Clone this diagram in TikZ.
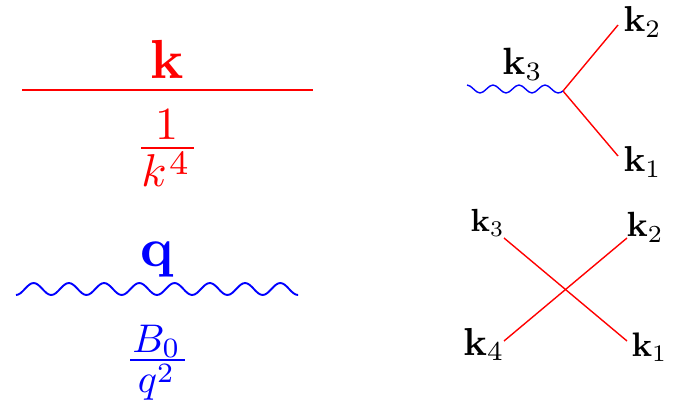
\documentclass[tikz,border=0pt]{standalone}
\usepackage{amsmath}
\usepackage{graphicx}
\definecolor{wblue}{rgb}{0,0,1}
\tikzset{
  every node/.style={inner sep=0pt,outer sep=0pt,anchor=base},
  bigline/.style={red,line width=1.9pt},
  thinred/.style={red,line width=1.4pt},
  wavebig/.style={wblue,line width=1.9pt},
  wavesmall/.style={wblue,line width=1.4pt},
  biglabel/.style={scale=5.5},
  fracred/.style={scale=4.6,text=red},
  fracblue/.style={scale=4.0,text=wblue},
  fracrule/.style={line width=2.6pt},
  leg/.style={scale=#1,text=black},
}
\begin{document}
\begin{tikzpicture}[x=1pt,y=-1pt]
\useasboundingbox (0,0) rectangle (674,411);
% propagators
\coordinate (kl) at (22,90);
\coordinate (kr) at (313,90);
\draw[bigline] (kl) -- (kr);
\node[biglabel,text=red] (ktext) at (167,79) {$\mathbf{k}$};
\node[fracred] (knum) at (166.5,140) {$1$};
\coordinate (krl) at (141,148);
\coordinate (krr) at (194,148);
\draw[fracrule,red] (krl) -- (krr);
\node[fracred] (kden) at (165,187) {$k\kern0.5pt\raisebox{2.7pt}{\scalebox{1.06}{$\scriptstyle 4$}}$};
\coordinate (ql) at (16,295);
\coordinate (qr) at (298,295);
\draw[wavebig] (ql) foreach \i in {1,...,8}{
  cos ++(8.81,-6) sin ++(8.81,-6) cos ++(8.81,6) sin ++(8.81,6)} -- (qr);
\node[biglabel,text=wblue] (qtext) at (157,267) {$\mathbf{q}$};
\node[fracblue] (qnum) at (156.5,352) {$B_0$};
\coordinate (qrl) at (130,360);
\coordinate (qrr) at (185,360);
\draw[fracrule,wblue] (qrl) -- (qrr);
\node[fracblue] (qden) at (155.5,392) {$q\raisebox{2.5pt}{$\scriptstyle 2$}$};
% three-leg vertex
\coordinate (v) at (563,91);
\coordinate (w) at (467,85);
\coordinate (a2) at (618,25);
\coordinate (a1) at (618,156);
\draw[thinred] (v) -- (a2);
\draw[thinred] (v) -- (a1);
\draw[wavesmall] (w) foreach \i in {1,2,3}{
  cos ++(6.5,4) sin ++(6.5,4) cos ++(6.5,-4) sin ++(6.5,-4)}
  cos ++(6.5,4) sin ++(6.5,4) to[out=0,in=210] (v);
\node[leg=3.6] (l2) at (642.5,32) {$\mathbf{k}_2$};
\node[leg=3.6] (l1) at (642.5,172) {$\mathbf{k}_1$};
\node[leg=3.8] (l3) at (522.5,75) {$\mathbf{k}_3$};
% four-leg vertex
\coordinate (c3) at (504,238);
\coordinate (c2) at (627,238);
\coordinate (c4) at (504,341);
\coordinate (c1) at (627,341);
\draw[thinred] (c3) -- (c1);
\draw[thinred] (c4) -- (c2);
\node[leg=3.2] (m3) at (487.5,232) {$\mathbf{k}_3$};
\node[leg=3.5] (m2) at (645,237) {$\mathbf{k}_2$};
\node[leg=3.9] (m4) at (484,355) {$\mathbf{k}_4$};
\node[leg=3.4] (m1) at (649.5,356) {$\mathbf{k}_1$};
\end{tikzpicture}
\end{document}
